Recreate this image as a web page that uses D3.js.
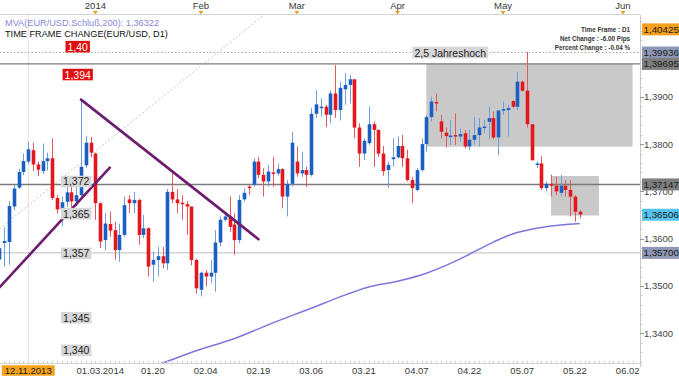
<!DOCTYPE html>
<html><head><meta charset="utf-8">
<script src="https://cdn.jsdelivr.net/npm/d3@7"></script>
<style>
body{margin:0;background:#fff}
svg{display:block}
text{font-family:"Liberation Sans",Arial,sans-serif}
</style>
</head><body>
<svg id="c" width="679" height="377"></svg>
<script>
// ---------- DATA ----------
const dates = [
"2013-12-03","2013-12-04","2013-12-05","2013-12-06","2013-12-09","2013-12-10","2013-12-11","2013-12-12","2013-12-13","2013-12-16",
"2013-12-17","2013-12-18","2013-12-19","2013-12-20","2013-12-23","2013-12-24","2013-12-26","2013-12-27","2013-12-30","2013-12-31",
"2014-01-02","2014-01-03","2014-01-06","2014-01-07","2014-01-08","2014-01-09","2014-01-10","2014-01-13","2014-01-14","2014-01-15",
"2014-01-16","2014-01-17","2014-01-20","2014-01-21","2014-01-22","2014-01-23","2014-01-24","2014-01-27","2014-01-28","2014-01-29",
"2014-01-30","2014-01-31",
"2014-02-03","2014-02-04","2014-02-05","2014-02-06","2014-02-07","2014-02-10","2014-02-11","2014-02-12","2014-02-13","2014-02-14",
"2014-02-17","2014-02-18","2014-02-19","2014-02-20","2014-02-21","2014-02-24","2014-02-25","2014-02-26","2014-02-27","2014-02-28",
"2014-03-03","2014-03-04","2014-03-05","2014-03-06","2014-03-07","2014-03-10","2014-03-11","2014-03-12","2014-03-13","2014-03-14",
"2014-03-17","2014-03-18","2014-03-19","2014-03-20","2014-03-21","2014-03-24","2014-03-25","2014-03-26","2014-03-27","2014-03-28","2014-03-31",
"2014-04-01","2014-04-02","2014-04-03","2014-04-04","2014-04-07","2014-04-08","2014-04-09","2014-04-10","2014-04-11","2014-04-14",
"2014-04-15","2014-04-16","2014-04-17","2014-04-18","2014-04-21","2014-04-22","2014-04-23","2014-04-24","2014-04-25","2014-04-28",
"2014-04-29","2014-04-30",
"2014-05-01","2014-05-02","2014-05-05","2014-05-06","2014-05-07","2014-05-08","2014-05-09","2014-05-12","2014-05-13","2014-05-14",
"2014-05-15","2014-05-16","2014-05-19","2014-05-20","2014-05-21","2014-05-22","2014-05-23"];

const open = [
1.3556,1.3591,1.3593,1.3668,1.3708,1.3741,1.3763,1.3787,1.3757,1.3743,1.3764,1.3770,1.3686,1.3662,1.3678,1.3698,1.3679,1.3692,1.3755,1.3803,
1.3780,1.3675,1.3597,1.3631,1.3618,1.3576,1.3608,1.3683,1.3675,1.3682,1.3608,1.3622,1.3545,1.3555,1.3563,1.3548,1.3699,1.3683,1.3676,1.3673,1.3668,1.3555,
1.3492,1.3528,1.3520,1.3528,1.3592,1.3640,1.3647,1.3630,1.3597,1.3683,1.3710,1.3714,1.3763,1.3735,1.3721,1.3740,1.3738,1.3747,1.3689,1.3716,
1.3763,1.3738,1.3745,1.3735,1.3864,1.3877,1.3879,1.3862,1.3907,1.3872,1.3916,1.3925,1.3937,1.3835,1.3780,1.3802,1.3842,1.3830,1.3780,1.3745,1.3768,
1.3772,1.3796,1.3770,1.3724,1.3703,1.3745,1.3800,1.3857,1.3889,1.3848,1.3824,1.3816,1.3819,1.3816,1.3823,1.3795,1.3809,1.3819,1.3835,1.3847,1.3855,1.3814,
1.3871,1.3872,1.3891,1.3879,1.3932,1.3913,1.3842,1.3756,1.3759,1.3707,1.3716,1.3712,1.3697,1.3712,1.3703,1.3689,1.3657];
const high = [
1.3594,1.3624,1.3680,1.3713,1.3748,1.3780,1.3805,1.3803,1.3763,1.3801,1.3782,1.3812,1.3692,1.3689,1.3713,1.3713,1.3713,1.3894,1.3817,1.3815,
1.3782,1.3677,1.3654,1.3657,1.3636,1.3632,1.3689,1.3692,1.3699,1.3684,1.3650,1.3624,1.3573,1.3583,1.3583,1.3705,1.3742,1.3705,1.3692,1.3679,1.3668,1.3558,
1.3530,1.3534,1.3555,1.3618,1.3647,1.3657,1.3689,1.3654,1.3692,1.3707,1.3714,1.3770,1.3773,1.3749,1.3756,1.3773,1.3759,1.3749,1.3724,1.3826,
1.3795,1.3784,1.3752,1.3876,1.3914,1.3897,1.3883,1.3914,1.3967,1.3932,1.3950,1.3946,1.3937,1.3844,1.3812,1.3879,1.3848,1.3831,1.3796,1.3763,1.3812,
1.3816,1.3819,1.3788,1.3731,1.3749,1.3812,1.3862,1.3900,1.3907,1.3862,1.3835,1.3851,1.3865,1.3833,1.3830,1.3830,1.3857,1.3855,1.3851,1.3879,1.3869,1.3871,
1.3890,1.3883,1.3893,1.3953,1.3934,1.3995,1.3842,1.3763,1.3774,1.3721,1.3735,1.3731,1.3735,1.3724,1.3724,1.3692,1.3660];
const low = [
1.3536,1.3541,1.3545,1.3660,1.3705,1.3734,1.3758,1.3743,1.3732,1.3737,1.3744,1.3682,1.3653,1.3627,1.3667,1.3667,1.3669,1.3689,1.3750,1.3772,
1.3640,1.3580,1.3576,1.3604,1.3555,1.3551,1.3604,1.3654,1.3654,1.3587,1.3601,1.3520,1.3509,1.3520,1.3537,1.3534,1.3675,1.3654,1.3640,1.3608,1.3544,1.3484,
1.3478,1.3499,1.3506,1.3488,1.3583,1.3636,1.3615,1.3566,1.3590,1.3678,1.3692,1.3710,1.3728,1.3689,1.3710,1.3710,1.3733,1.3664,1.3647,1.3710,
1.3731,1.3731,1.3710,1.3731,1.3855,1.3858,1.3836,1.3844,1.3855,1.3850,1.3883,1.3886,1.3812,1.3752,1.3766,1.3798,1.3752,1.3773,1.3733,1.3707,1.3752,
1.3770,1.3752,1.3721,1.3675,1.3700,1.3742,1.3784,1.3848,1.3869,1.3812,1.3793,1.3798,1.3798,1.3805,1.3791,1.3788,1.3798,1.3795,1.3823,1.3812,1.3810,1.3777,
1.3862,1.3816,1.3876,1.3872,1.3911,1.3835,1.3765,1.3749,1.3703,1.3700,1.3689,1.3692,1.3689,1.3689,1.3647,1.3636,1.3643];
const close = [
1.3580,1.3595,1.3669,1.3706,1.3741,1.3764,1.3789,1.3757,1.3746,1.3764,1.3770,1.3686,1.3662,1.3677,1.3698,1.3679,1.3692,1.3752,1.3803,1.3782,
1.3675,1.3594,1.3632,1.3617,1.3576,1.3608,1.3671,1.3675,1.3682,1.3608,1.3622,1.3541,1.3555,1.3563,1.3548,1.3699,1.3683,1.3675,1.3673,1.3668,1.3555,1.3495,
1.3528,1.3520,1.3528,1.3592,1.3640,1.3647,1.3625,1.3597,1.3682,1.3697,1.3707,1.3763,1.3735,1.3721,1.3742,1.3737,1.3747,1.3689,1.3716,1.3803,
1.3738,1.3745,1.3735,1.3864,1.3884,1.3879,1.3862,1.3907,1.3872,1.3919,1.3925,1.3937,1.3835,1.3780,1.3807,1.3842,1.3830,1.3780,1.3743,1.3756,1.3772,
1.3796,1.3770,1.3724,1.3707,1.3745,1.3800,1.3857,1.3890,1.3887,1.3826,1.3817,1.3818,1.3816,1.3821,1.3795,1.3809,1.3819,1.3835,1.3837,1.3855,1.3814,1.3871,
1.3874,1.3876,1.3879,1.3932,1.3913,1.3842,1.3766,1.3759,1.3707,1.3716,1.3712,1.3700,1.3712,1.3703,1.3689,1.3657,1.3651];

// 200-day moving average (read at selected dates)
const maDates  = ["2014-01-17","2014-01-21","2014-01-31","2014-02-12","2014-02-24","2014-03-06","2014-03-14","2014-03-24","2014-04-01","2014-04-09","2014-04-15","2014-04-21","2014-04-28","2014-05-05","2014-05-12","2014-05-19","2014-05-23"];
const maValues = [1.3328,1.3334,1.3363,1.3389,1.3422,1.3453,1.3477,1.3498,1.3510,1.3527,1.3543,1.3562,1.3588,1.3610,1.3622,1.3629,1.36322];

// horizontal levels and right-axis price tags
const solidLevels = [1.39695, 1.37147];
const thinLevels = [1.3570];
const dottedLevels = [1.39936];
const tagValues = [1.40425, 1.39936, 1.39695, 1.37147, 1.36506, 1.35700];
const tagColors = ["#f5a11c", "#8e98b6", "#7e7e7e", "#7e7e7e", "#56c4ee", "#8e98b6"];
const yTicks = [1.34, 1.35, 1.36, 1.37, 1.38, 1.39];

// shaded ranges
const boxFrom = ["2014-04-09", "2014-05-15"];
const boxTo   = ["2014-06-03", "2014-05-27"];
const boxTop  = [1.39695, 1.37326];
const boxBottom = [1.37945, 1.36490];

// drawn lines
const trendDown = [["2013-12-27", 1.3894], ["2014-02-19", 1.3599]];
const trendUp   = [["2013-12-03", 1.3497], ["2014-01-07", 1.3750]];
const guideDotted = [["2013-12-03", 1.3621], ["2014-02-21", 1.4080]];

// text annotations
const grayLabels = ["1,372", "1,365", "1,357", "1,345", "1,340"];
const grayLabelAt = [1.3721, 1.3653, 1.3569, 1.3433, 1.3364];
const redLabels = ["1,40", "1,394"];
const redLabelAt = [1.4006, 1.3947];
const labelDate = "2013-12-26";
const highLabel = "2,5 Jahreshoch";
const highLabelDate = "2014-04-16";
const markerDate = "2013-12-11";
const markerText = "12.11.2013";

const bottomLabels = ["01.03.2014","01.20","02.04","02.19","03.06","03.21","04.07","04.22","05.07","05.22","06.02"];
const bottomDates  = ["2014-01-03","2014-01-20","2014-02-04","2014-02-19","2014-03-06","2014-03-21","2014-04-07","2014-04-22","2014-05-07","2014-05-22","2014-06-02"];
const topLabels = ["2014","Feb","Mar","Apr","May","Jun"];
const topDates  = ["2014-01-02","2014-02-03","2014-03-03","2014-04-01","2014-05-01","2014-06-01"];

const legend1 = "MVA(EUR/USD.Schluß,200): 1,36322";
const legend2 = "TIME FRAME CHANGE(EUR/USD, D1)";
const infoLines = ["Time Frame : D1", "Net Change : -6.00 Pips", "Percent Change : -0.04 %"];

// ---------- CHECK ----------
[open, high, low, close].forEach((a, k) => { if (a.length !== dates.length) throw new Error("length mismatch " + k + ": " + a.length + " vs " + dates.length); });

// ---------- SCALES ----------
const svg = d3.select("#c");
const P = {left: 0, right: 640, top: 15, bottom: 363};
const lastIdx = dates.length - 1;
const DAY = 864e5;
function idxOf(s) {
  const i = dates.indexOf(s);
  if (i >= 0) return i;
  return lastIdx + (new Date(s) - new Date(dates[lastIdx])) / DAY;
}
const x = d3.scaleLinear().domain([20, 121]).range([95.4, 579.8]);
const y = d3.scaleLinear().domain([1.33372, 1.40729]).range([P.bottom, P.top]);
const xd = s => x(idxOf(s));
const comma = (f) => v => d3.format(f)(v).replace(".", ",");

svg.append("rect").attr("width", 679).attr("height", 377).attr("fill", "#fff");
svg.append("clipPath").attr("id", "clip").append("rect")
  .attr("x", P.left).attr("y", P.top).attr("width", P.right - P.left).attr("height", P.bottom - P.top);
const g = svg.append("g").attr("clip-path", "url(#clip)");

// faint vertical marker line
g.append("line").attr("x1", xd(markerDate)).attr("x2", xd(markerDate))
  .attr("y1", P.top).attr("y2", P.bottom).attr("stroke", "#e2e2e2").attr("stroke-width", 1);

// shaded boxes
g.selectAll("rect.box").data(boxFrom).join("rect").attr("class", "box")
  .attr("x", (d, i) => xd(d))
  .attr("width", (d, i) => xd(boxTo[i]) - xd(d))
  .attr("y", (d, i) => y(boxTop[i]))
  .attr("height", (d, i) => y(boxBottom[i]) - y(boxTop[i]))
  .attr("fill", "#c9c9c9");

// levels
g.selectAll("line.solid").data(solidLevels).join("line")
  .attr("x1", P.left).attr("x2", P.right).attr("y1", d => y(d)).attr("y2", d => y(d))
  .attr("stroke", "#7a7a7a").attr("stroke-width", 1.4);
g.selectAll("line.thin").data(thinLevels).join("line")
  .attr("x1", P.left).attr("x2", P.right).attr("y1", d => y(d)).attr("y2", d => y(d))
  .attr("stroke", "#bdbdbd").attr("stroke-width", 1);
g.selectAll("line.dot").data(dottedLevels).join("line")
  .attr("x1", P.left).attr("x2", P.right).attr("y1", d => y(d)).attr("y2", d => y(d))
  .attr("stroke", "#aaaaaa").attr("stroke-width", 1).attr("stroke-dasharray", "1.5,2");

// dotted diagonal guide
const lineGen = d3.line().x(d => xd(d[0])).y(d => y(d[1]));
g.append("path").attr("d", lineGen(guideDotted)).attr("fill", "none")
  .attr("stroke", "#c4c4c4").attr("stroke-width", 1).attr("stroke-dasharray", "2,2");

// moving average
g.append("path")
  .attr("d", d3.line().curve(d3.curveMonotoneX).x((d, i) => xd(d)).y((d, i) => y(maValues[i]))(maDates))
  .attr("fill", "none").attr("stroke", "#7b78dc").attr("stroke-width", 1.5);

// candles
const candles = dates.map((d, i) => ({d, i, o: open[i], h: high[i], l: low[i], c: close[i]}));
const bw = 3.6;
const cg = g.append("g");
cg.selectAll("line.wick").data(candles).join("line")
  .attr("x1", d => Math.round(x(d.i)) + 0.5).attr("x2", d => Math.round(x(d.i)) + 0.5)
  .attr("y1", d => y(Math.max(d.h, d.o, d.c))).attr("y2", d => y(Math.min(d.l, d.o, d.c)))
  .attr("stroke", d => d.c >= d.o ? "#6e9fdc" : "#e35a5e").attr("stroke-width", 1);
cg.selectAll("rect.body").data(candles).join("rect")
  .attr("x", d => Math.round(x(d.i)) + 0.5 - bw / 2)
  .attr("width", bw)
  .attr("y", d => y(Math.max(d.o, d.c)))
  .attr("height", d => Math.max(1.5, y(Math.min(d.o, d.c)) - y(Math.max(d.o, d.c))))
  .attr("fill", d => d.c >= d.o ? "#1b5fc2" : "#e3171d");

// trend lines
[trendDown, trendUp].forEach(t => {
  g.append("path").attr("d", lineGen(t)).attr("fill", "none")
    .attr("stroke", "#6d1d70").attr("stroke-width", 2.6).attr("stroke-linecap", "round");
});

// annotation labels
function tag(parent, cx, cy, text, bg, fg, fs, pad) {
  const gg = parent.append("g");
  const t = gg.append("text").attr("x", cx).attr("y", cy).attr("text-anchor", "middle")
    .attr("dominant-baseline", "central").attr("font-size", fs).attr("fill", fg).text(text);
  const w = t.node().getComputedTextLength();
  gg.insert("rect", "text").attr("x", cx - w / 2 - pad).attr("y", cy - fs * 0.55)
    .attr("width", w + 2 * pad).attr("height", fs * 1.1).attr("fill", bg);
  return gg;
}
grayLabels.forEach((s, i) => tag(svg, xd(labelDate), y(grayLabelAt[i]), s, "#d6d6d6", "#222", 10.5, 2));
redLabels.forEach((s, i) => tag(svg, xd(labelDate) + 1.5, y(redLabelAt[i]), s, "#e01010", "#fff", 10.5, 2));
tag(svg, xd(highLabelDate), y(dottedLevels[0]), highLabel, "#d6d6d6", "#222", 10.5, 2);

// ---------- AXES ----------
// right axis line
svg.append("line").attr("x1", P.right + 0.5).attr("x2", P.right + 0.5).attr("y1", P.top).attr("y2", P.bottom + 4)
  .attr("stroke", "#c8c8c8");
// top & bottom borders
svg.append("line").attr("x1", 0).attr("x2", P.right).attr("y1", P.top - 0.5).attr("y2", P.top - 0.5).attr("stroke", "#d4d4d4");
svg.append("line").attr("x1", 0).attr("x2", P.right).attr("y1", P.bottom + 0.5).attr("y2", P.bottom + 0.5).attr("stroke", "#d4d4d4");

// minor right ticks
const minor = d3.range(1.334, 1.407, 0.002);
svg.selectAll("line.mt").data(minor).join("line")
  .attr("x1", P.right).attr("x2", P.right + 2.5).attr("y1", d => Math.round(y(d)) + 0.5).attr("y2", d => Math.round(y(d)) + 0.5)
  .attr("stroke", "#c8c8c8");
svg.selectAll("line.Mt").data(yTicks).join("line")
  .attr("x1", P.right).attr("x2", P.right + 4).attr("y1", d => Math.round(y(d)) + 0.5).attr("y2", d => Math.round(y(d)) + 0.5)
  .attr("stroke", "#999");
svg.selectAll("text.yl").data(yTicks).join("text")
  .attr("x", P.right + 4).attr("y", d => y(d)).attr("dominant-baseline", "central")
  .attr("font-size", 9.5).attr("fill", "#444").text(comma(".4f"));

// price tags
tagValues.forEach((v, i) => {
  const cy = y(v);
  svg.append("rect").attr("x", P.right + 2).attr("y", cy - 6).attr("width", 37).attr("height", 12).attr("fill", tagColors[i]);
  svg.append("text").attr("x", P.right + 3.5).attr("y", cy).attr("dominant-baseline", "central")
    .attr("font-size", 9.8).attr("fill", "#1a1a1a").text(comma(".5f")(v));
});

// bottom minor ticks
const tickIdx = d3.range(0, idxOf("2014-06-04"), 1);
svg.selectAll("line.bt").data(tickIdx).join("line")
  .attr("x1", d => Math.round(x(d)) + 0.5).attr("x2", d => Math.round(x(d)) + 0.5)
  .attr("y1", P.bottom - 2).attr("y2", P.bottom + 1).attr("stroke", "#d0d0d0");

// bottom labels
svg.selectAll("text.bl").data(bottomLabels).join("text")
  .attr("x", (d, i) => xd(bottomDates[i])).attr("y", 374).attr("text-anchor", "middle")
  .attr("font-size", 9.5).attr("fill", "#3a3a3a").text(d => d);
// highlighted date marker
tag(svg, xd(markerDate), 370.5, markerText, "#f5a11c", "#222", 9.5, 3);

// top month labels + markers
svg.selectAll("text.tl").data(topLabels).join("text")
  .attr("x", (d, i) => xd(topDates[i])).attr("y", 9).attr("text-anchor", "middle")
  .attr("font-size", 9.5).attr("fill", "#3a3a3a").text(d => d);
svg.selectAll("path.tri").data(topDates).join("path")
  .attr("d", d => { const cx = xd(d); return `M${cx - 2.5},11 L${cx + 2.5},11 L${cx},14.5 Z`; })
  .attr("fill", "#e8a02a");

// legend
svg.append("text").attr("x", 5).attr("y", 26).attr("font-size", 9.2).attr("fill", "#8787d8").text(legend1);
svg.append("text").attr("x", 5).attr("y", 37).attr("font-size", 9.2).attr("fill", "#111").text(legend2);

// info block
svg.selectAll("text.info").data(infoLines).join("text")
  .attr("x", 630).attr("y", (d, i) => 32 + i * 8.8).attr("text-anchor", "end")
  .attr("font-size", 6.3).attr("font-weight", "bold").attr("fill", "#333").text(d => d);
</script>
</body></html>
